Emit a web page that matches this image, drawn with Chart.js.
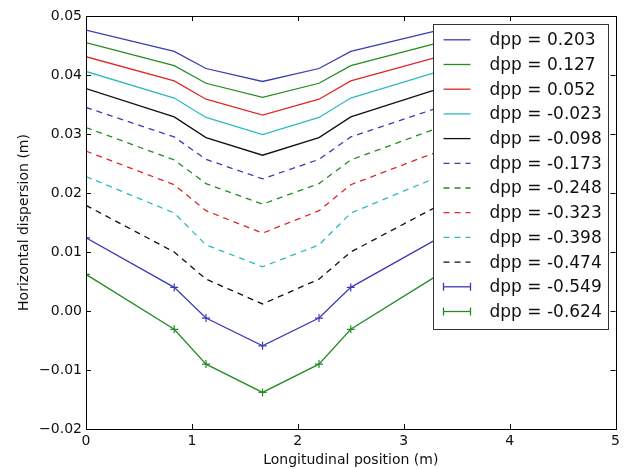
<!DOCTYPE html>
<html>
<head>
<meta charset="utf-8">
<script src="https://cdn.jsdelivr.net/npm/chart.js@4/dist/chart.umd.min.js"></script>
<style>
  html, body { margin: 0; padding: 0; background: #fff; }
  canvas { display: block; }
</style>
</head>
<body>
<canvas id="c" width="624" height="469"></canvas>
<script>
// Longitudinal positions (m)
const positions = [0, 0.833, 1.133, 1.667, 2.2, 2.5, 3.333];
// dpp labels
const dppLabels = ["0.203", "0.127", "0.052", "-0.023", "-0.098", "-0.173", "-0.248", "-0.323", "-0.398", "-0.474", "-0.549", "-0.624"];
// Horizontal dispersion (m), one array per dpp
const disp_0203  = [0.0476, 0.0440, 0.0411, 0.0389, 0.0411, 0.0440, 0.0476];
const disp_0127  = [0.0455, 0.0416, 0.0386, 0.0362, 0.0386, 0.0416, 0.0455];
const disp_0052  = [0.0431, 0.0390, 0.0359, 0.0332, 0.0359, 0.0390, 0.0431];
const disp_m0023 = [0.0406, 0.0361, 0.0328, 0.0299, 0.0328, 0.0361, 0.0406];
const disp_m0098 = [0.0377, 0.0329, 0.0294, 0.0264, 0.0294, 0.0329, 0.0377];
const disp_m0173 = [0.0345, 0.0295, 0.0257, 0.0224, 0.0257, 0.0295, 0.0345];
const disp_m0248 = [0.0311, 0.0256, 0.0216, 0.0181, 0.0216, 0.0256, 0.0311];
const disp_m0323 = [0.0271, 0.0214, 0.0170, 0.0132, 0.0170, 0.0214, 0.0271];
const disp_m0398 = [0.0228, 0.0166, 0.0112, 0.0075, 0.0112, 0.0166, 0.0228];
const disp_m0474 = [0.0179, 0.0100, 0.0054, 0.0012, 0.0054, 0.0100, 0.0179];
const disp_m0549 = [0.0124, 0.0040, -0.0012, -0.0059, -0.0012, 0.0040, 0.0124];
const disp_m0624 = [0.0062, -0.0031, -0.0090, -0.0138, -0.0090, -0.0031, 0.0062];
// Axis ticks
const xTicks = [0, 1, 2, 3, 4, 5];
const yTicks = [-0.02, -0.01, 0.00, 0.01, 0.02, 0.03, 0.04, 0.05];

const seriesValues = [disp_0203, disp_0127, disp_0052, disp_m0023, disp_m0098, disp_m0173,
  disp_m0248, disp_m0323, disp_m0398, disp_m0474, disp_m0549, disp_m0624];

const C = { b: '#3c3cb4', g: '#238c23', r: '#e02828', c: '#2fb9bf', k: '#111111' };
const styles = [
  { color: C.b, dash: [] }, { color: C.g, dash: [] }, { color: C.r, dash: [] },
  { color: C.c, dash: [] }, { color: C.k, dash: [] },
  { color: C.b, dash: [6, 5] }, { color: C.g, dash: [6, 5] }, { color: C.r, dash: [6, 5] },
  { color: C.c, dash: [6, 5] }, { color: C.k, dash: [6, 5] },
  { color: C.b, dash: [], cross: true }, { color: C.g, dash: [], cross: true }
];

const datasets = seriesValues.map((vals, i) => ({
  label: 'dpp = ' + dppLabels[i],
  data: positions.map((x, j) => ({ x: x, y: vals[j] })),
  borderColor: styles[i].color,
  backgroundColor: styles[i].color,
  borderWidth: 1.3,
  borderDash: styles[i].dash,
  pointStyle: styles[i].cross ? 'cross' : 'circle',
  pointRadius: styles[i].cross ? 4 : 0,
  pointBorderWidth: 1.2,
  pointBorderColor: styles[i].color,
  tension: 0,
  fill: false
}));

const FONT = "'DejaVu Sans', sans-serif";

const framePlugin = {
  id: 'frameTicks',
  afterDatasetsDraw(chart) {
    const { ctx, chartArea: a } = chart;
    const xs = chart.scales.x, ys = chart.scales.y;
    ctx.save();
    ctx.strokeStyle = '#000';
    ctx.lineWidth = 1;
    ctx.setLineDash([]);
    ctx.beginPath();
    xTicks.forEach(v => {
      const px = Math.round(xs.getPixelForValue(v)) + 0.5;
      ctx.moveTo(px, a.bottom); ctx.lineTo(px, a.bottom - 5);
      ctx.moveTo(px, a.top); ctx.lineTo(px, a.top + 5);
    });
    yTicks.forEach(v => {
      const py = Math.round(ys.getPixelForValue(v)) + 0.5;
      ctx.moveTo(a.left, py); ctx.lineTo(a.left + 5, py);
      ctx.moveTo(a.right, py); ctx.lineTo(a.right - 5, py);
    });
    ctx.stroke();

    // legend box
    const w = 175, h = 305;
    const lx = Math.round(a.right - 8 - w) + 0.5, ly = Math.round(a.top + 8) + 0.5;
    ctx.fillStyle = '#fff';
    ctx.fillRect(lx, ly, w, h);
    ctx.strokeStyle = '#333';
    ctx.strokeRect(lx, ly, w, h);
    ctx.font = '17px ' + FONT;
    ctx.textBaseline = 'middle';
    ctx.textAlign = 'left';
    chart.data.datasets.forEach((ds, i) => {
      const cy = ly + 15.3 + i * 24.7;
      ctx.strokeStyle = ds.borderColor;
      ctx.lineWidth = 1.3;
      ctx.setLineDash(ds.borderDash || []);
      ctx.beginPath();
      ctx.moveTo(lx + 10, cy); ctx.lineTo(lx + 37, cy);
      ctx.stroke();
      ctx.setLineDash([]);
      if (ds.pointStyle === 'cross') {
        ctx.beginPath();
        [lx + 10, lx + 37].forEach(px => {
          ctx.moveTo(px, cy - 4); ctx.lineTo(px, cy + 4);
        });
        ctx.stroke();
      }
      ctx.fillStyle = '#111';
      ctx.fillText(ds.label, lx + 56, cy + 1);
    });

    // frame
    ctx.strokeStyle = '#000';
    ctx.lineWidth = 1;
    ctx.strokeRect(Math.round(a.left) + 0.5, Math.round(a.top) + 0.5,
      Math.round(a.right - a.left), Math.round(a.bottom - a.top));
    ctx.restore();
  }
};

new Chart(document.getElementById('c'), {
  type: 'line',
  data: { datasets: datasets },
  options: {
    responsive: false,
    animation: false,
    events: [],
    layout: { padding: { top: 16, right: 5, bottom: 0, left: 0 } },
    plugins: { legend: { display: false }, tooltip: { enabled: false } },
    scales: {
      x: {
        type: 'linear',
        min: 0, max: 5,
        afterFit(s) { s.height = 40; },
        afterBuildTicks(s) { s.ticks = xTicks.map(v => ({ value: v })); },
        grid: { display: false, drawTicks: false },
        border: { display: false },
        ticks: { color: '#111', padding: 4, font: { family: FONT, size: 14 },
          callback: v => String(v) },
        title: { display: true, text: 'Longitudinal position (m)', color: '#111',
          font: { family: FONT, size: 14 }, padding: { top: 0, bottom: 0 } }
      },
      y: {
        type: 'linear',
        min: -0.02, max: 0.05,
        afterFit(s) { s.width = 86; },
        afterBuildTicks(s) { s.ticks = yTicks.map(v => ({ value: v })); },
        grid: { display: false, drawTicks: false },
        border: { display: false },
        ticks: { color: '#111', padding: 4, font: { family: FONT, size: 14 },
          callback: v => v.toFixed(2).replace('-', '\u2212') },
        title: { display: true, text: 'Horizontal dispersion (m)', color: '#111',
          font: { family: FONT, size: 14 }, padding: { top: 16, bottom: 0 } }
      }
    }
  },
  plugins: [framePlugin]
});
</script>
</body>
</html>
